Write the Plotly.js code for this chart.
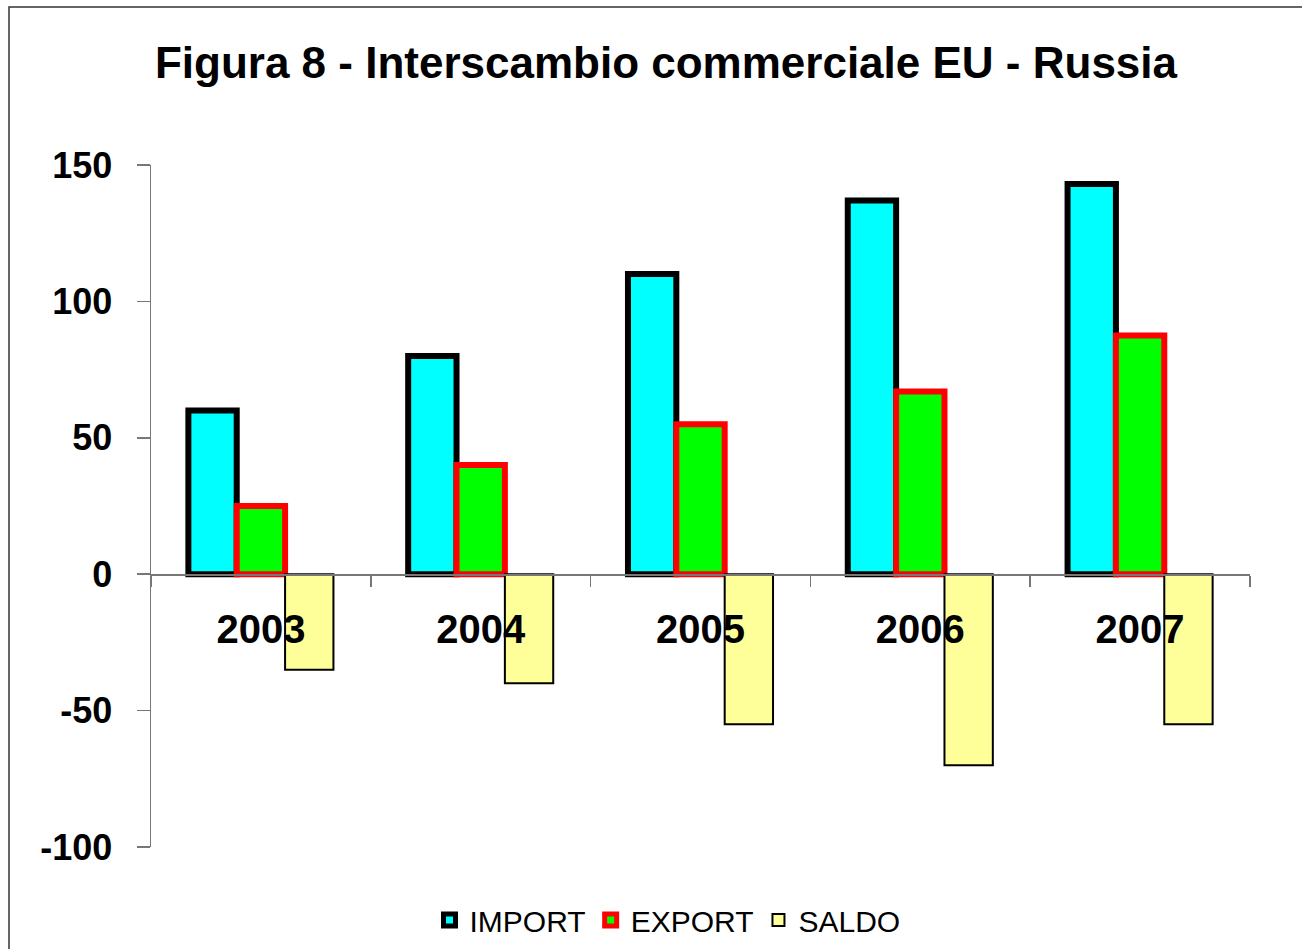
<!DOCTYPE html>
<html>
<head>
<meta charset="utf-8">
<script src="https://cdn.plot.ly/plotly-3.0.1.min.js"></script>
<style>
html,body{margin:0;padding:0;background:#fff;}
#chart{width:1302px;height:949px;}
</style>
</head>
<body>
<div id="chart"></div>
<script>
var years = ['2003', '2004', '2005', '2006', '2007'];
var importVals = [60, 80, 110, 137, 143];
var exportVals = [25, 40, 55, 67, 87.5];
var saldoVals = [-35, -40, -55, -70, -55];
var yTicks = [-100, -50, 0, 50, 100, 150];

var FONT = 'Arial, "Liberation Sans", sans-serif';

var traces = [
  {type: 'bar', name: 'IMPORT', x: years, y: importVals,
   marker: {color: '#00FFFF', line: {color: '#000000', width: 6}}},
  {type: 'bar', name: 'EXPORT', x: years, y: exportVals,
   marker: {color: '#00FF00', line: {color: '#FF0000', width: 6}}},
  {type: 'bar', name: 'SALDO', x: years, y: saldoVals,
   marker: {color: '#FFFF99', line: {color: '#000000', width: 2}}}
];

var layout = {
  width: 1302, height: 949,
  margin: {l: 151, r: 52, t: 165, b: 102, pad: 0, autoexpand: false},
  paper_bgcolor: '#ffffff', plot_bgcolor: '#ffffff',
  barmode: 'group', bargap: 0.34, bargroupgap: 0,
  hovermode: false,
  title: {text: 'Figura 8 - Interscambio commerciale EU - Russia',
          font: {family: FONT, size: 44, color: '#000', weight: 'bold'},
          x: 0.5115, xref: 'container', xanchor: 'center',
          y: 1 - 63/949, yref: 'container', yanchor: 'middle'},
  xaxis: {type: 'category', anchor: 'free', position: 0.4,
          showline: true, linecolor: '#777', linewidth: 1.5,
          ticks: 'outside', tickson: 'boundaries', ticklen: 11, tickcolor: '#777', tickwidth: 1.5,
          ticklabelstandoff: 19,
          showgrid: false, zeroline: false,
          tickfont: {family: FONT, size: 40, color: '#000', weight: 'bold'}},
  yaxis: {range: [-100, 150], tickvals: yTicks, ticktext: yTicks.map(String),
          showline: true, linecolor: '#777', linewidth: 1.5,
          ticks: 'outside', ticklen: 13, tickcolor: '#777', tickwidth: 1.5,
          ticklabelstandoff: 17,
          showgrid: false, zeroline: false,
          tickfont: {family: FONT, size: 36, color: '#000', weight: 'bold'}},
  legend: {orientation: 'h', x: 0.47, xanchor: 'center', y: -0.107, yanchor: 'middle',
           font: {family: FONT, size: 30, color: '#000'},
           bgcolor: 'rgba(0,0,0,0)', itemwidth: 30, tracegroupgap: 0},
  shapes: [{type: 'rect', xref: 'paper', yref: 'paper',
            x0: (9-151)/1099, x1: 1.2, y0: -0.3, y1: (847-7)/682,
            line: {color: '#333', width: 1.5}, fillcolor: 'rgba(0,0,0,0)', layer: 'below'}]
};

Plotly.newPlot('chart', traces, layout, {displayModeBar: false, staticPlot: true});
</script>
</body>
</html>
